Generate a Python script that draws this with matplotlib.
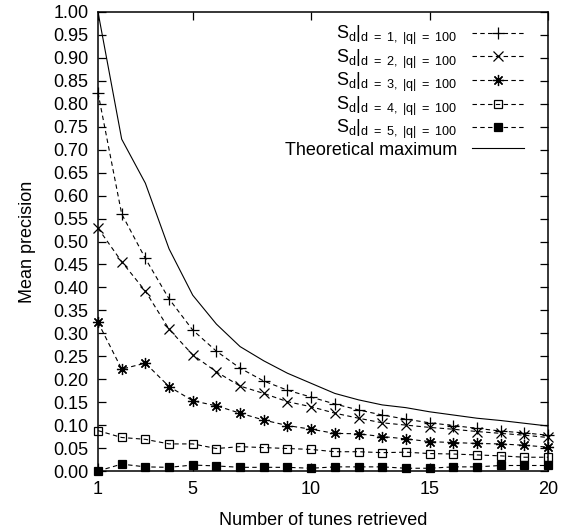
import matplotlib
matplotlib.use("Agg")
from matplotlib import pyplot as plt

plt.rcParams['font.family'] = ['Liberation Sans', 'DejaVu Sans']
plt.rcParams['mathtext.fontset'] = 'custom'
plt.rcParams['mathtext.rm'] = 'Liberation Sans'
plt.rcParams['mathtext.it'] = 'Liberation Sans'
plt.rcParams['mathtext.bf'] = 'Liberation Sans'

# number of tunes retrieved
n = list(range(1, 21))

sd1 = [0.824, 0.560, 0.463, 0.375, 0.307, 0.261, 0.224, 0.196, 0.176, 0.161,
       0.146, 0.133, 0.122, 0.113, 0.105, 0.099, 0.093, 0.087, 0.083, 0.078]
sd2 = [0.529, 0.456, 0.392, 0.309, 0.253, 0.216, 0.185, 0.169, 0.151, 0.140,
       0.126, 0.115, 0.105, 0.100, 0.095, 0.091, 0.086, 0.082, 0.078, 0.073]
sd3 = [0.324, 0.222, 0.235, 0.184, 0.153, 0.142, 0.126, 0.111, 0.099, 0.091,
       0.082, 0.081, 0.075, 0.070, 0.064, 0.062, 0.060, 0.059, 0.056, 0.052]
sd4 = [0.088, 0.073, 0.069, 0.059, 0.059, 0.049, 0.053, 0.051, 0.049, 0.047,
       0.042, 0.042, 0.040, 0.041, 0.038, 0.037, 0.035, 0.033, 0.030, 0.030]
sd5 = [0.000, 0.015, 0.009, 0.008, 0.013, 0.011, 0.008, 0.008, 0.008, 0.006,
       0.009, 0.009, 0.009, 0.006, 0.006, 0.009, 0.009, 0.012, 0.012, 0.012]
theo = [1.000, 0.723, 0.627, 0.484, 0.383, 0.320, 0.271, 0.240, 0.213, 0.191,
        0.169, 0.155, 0.144, 0.138, 0.129, 0.122, 0.115, 0.110, 0.104, 0.098]

labels = [r'$\mathrm{S_d|_{d\ =\ %d,\ |q|\ =\ 100}}$' % d for d in range(1, 6)]

fig = plt.figure(figsize=(5.69, 5.29), dpi=100)
ax = fig.add_axes([98/569, 1 - 471/529, 450/569, 459/529])

dash = dict(color='black', linewidth=0.8, linestyle=(0, (4, 3)), clip_on=False,
            markeredgewidth=0.9)
ax.plot(n, sd1, marker='+', markersize=9, label=labels[0], **dash)
ax.plot(n, sd2, marker='x', markersize=7, label=labels[1], **dash)
ax.plot(n, sd3, marker=(8, 2, 0), markersize=8, label=labels[2], **dash)
ax.plot(n, sd4, marker='s', markersize=6, fillstyle='none', label=labels[3], **dash)
ax.plot(n, sd5, marker='s', markersize=6, label=labels[4], **dash)
ax.plot(n, theo, color='black', linewidth=0.8, label='Theoretical maximum')

ax.set_xlim(1, 20)
ax.set_ylim(0, 1)
ax.set_xticks([1, 5, 10, 15, 20])
ax.set_yticks([i * 0.05 for i in range(21)])
ax.set_yticklabels(['%.2f' % (i * 0.05) for i in range(21)])
ax.tick_params(direction='in', length=6, width=0.9, top=True, right=True,
               labelsize=13, pad=7)
for s in ax.spines.values():
    s.set_linewidth(1.1)

ax.set_xlabel('Number of tunes retrieved', fontsize=13, labelpad=10)
ax.set_ylabel('Mean precision', fontsize=13, labelpad=12)

ax.legend(loc='upper right', bbox_to_anchor=(524/569, 1 - 24/529),
          bbox_transform=fig.transFigure, frameon=False, markerfirst=False,
          numpoints=1, handlelength=2.9, handletextpad=0.8, borderpad=0,
          borderaxespad=0, labelspacing=0.02, fontsize=13)

plt.savefig("out.png", dpi=100)
